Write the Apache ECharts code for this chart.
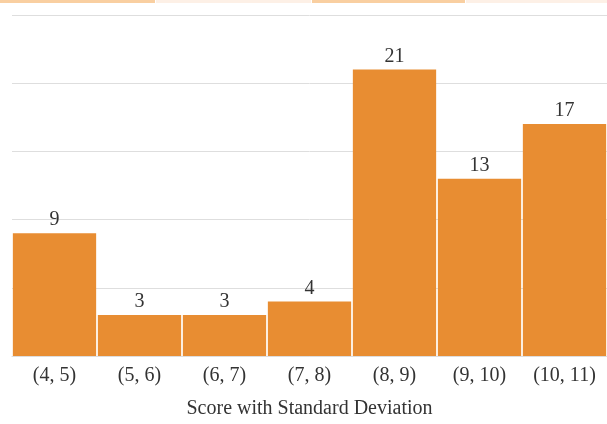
<!DOCTYPE html>
<html><head><meta charset="utf-8">
<script src="https://cdn.jsdelivr.net/npm/echarts@6/dist/echarts.min.js"></script>
<style>html,body{margin:0;padding:0;background:#fff}#c{width:607px;height:424px}</style>
</head><body><div id="c"></div>
<script>
const categories = ['(4, 5)','(5, 6)','(6, 7)','(7, 8)','(8, 9)','(9, 10)','(10, 11)'];
const counts = [9, 3, 3, 4, 21, 13, 17];
const chart = echarts.init(document.getElementById('c'));
const serif = '"Liberation Serif", "DejaVu Serif", serif';
chart.setOption({
  animation: false,
  backgroundColor: '#fff',
  graphic: [
    {type:'rect', shape:{x:0,y:0,width:155,height:3}, style:{fill:'#F9CFA1'}},
    {type:'rect', shape:{x:156,y:0,width:155,height:3}, style:{fill:'#FDF0E6'}},
    {type:'rect', shape:{x:312,y:0,width:153,height:3}, style:{fill:'#F9CFA1'}},
    {type:'rect', shape:{x:466,y:0,width:141,height:3}, style:{fill:'#FDF0E6'}}
  ],
  grid: {left: 12, right: 0, top: 15, bottom: 64, containLabel: false},
  xAxis: {
    type: 'category', data: categories,
    axisTick: {show: false},
    axisLine: {lineStyle: {color: '#dddddd'}},
    axisLabel: {fontFamily: serif, fontSize: 20, color: '#333', margin: 10},
    name: 'Score with Standard Deviation', nameLocation: 'middle', nameGap: 43,
    nameTextStyle: {fontFamily: serif, fontSize: 20, color: '#333'}
  },
  yAxis: {
    type: 'value', min: 0, max: 25, interval: 5,
    axisLabel: {show: false}, axisLine: {show: false}, axisTick: {show: false},
    splitLine: {lineStyle: {color: '#dedede', width: 1}}
  },
  series: [{
    type: 'bar', data: counts, barCategoryGap: '2%',
    itemStyle: {color: '#E88D32'},
    label: {show: true, position: 'top', fontFamily: serif, fontSize: 20, color: '#333', distance: 3}
  }]
});
</script></body></html>
